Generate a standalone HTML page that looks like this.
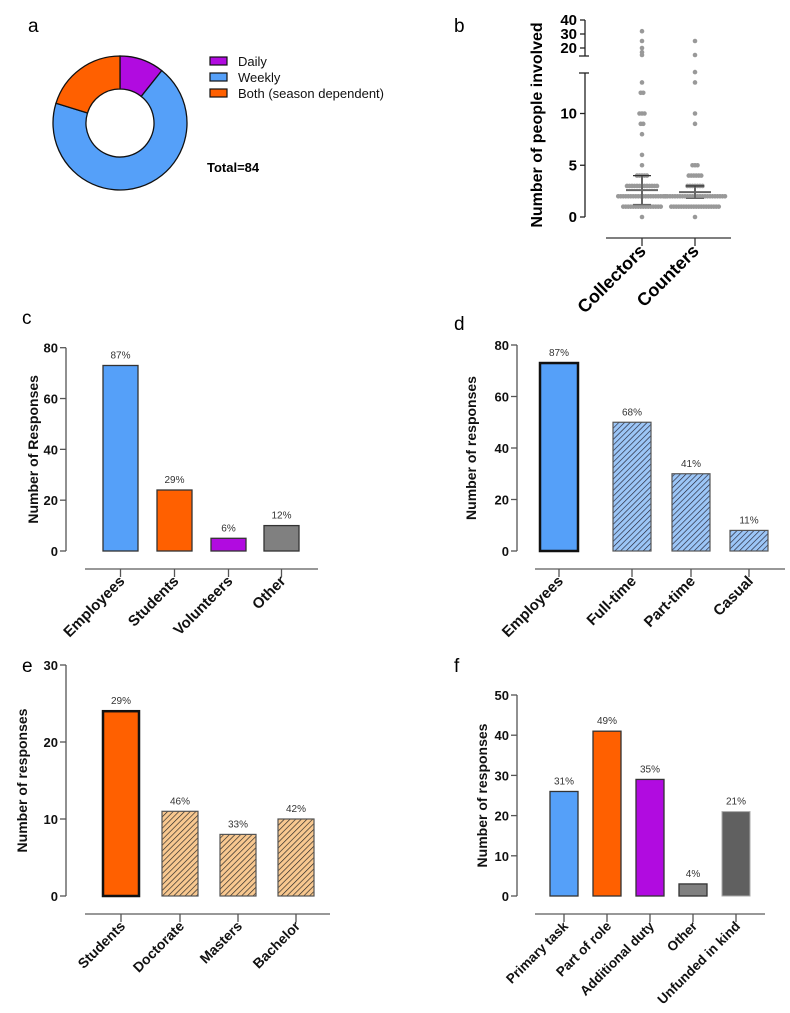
<!DOCTYPE html>
<html><head><meta charset="utf-8"><style>
html,body{margin:0;padding:0;background:#fff;}
svg{display:block;font-family:"Liberation Sans",Arial,sans-serif;}
</style></head><body>
<svg id="fig" width="790" height="1013" viewBox="0 0 790 1013">
<defs>
<pattern id="hatchBlue" width="4" height="4" patternUnits="userSpaceOnUse" patternTransform="rotate(45)"><rect width="4" height="4" fill="#9cc6f7"/><line x1="0" y1="0" x2="0" y2="4" stroke="#223" stroke-width="1.3"/></pattern>
<pattern id="hatchOrange" width="4" height="4" patternUnits="userSpaceOnUse" patternTransform="rotate(45)"><rect width="4" height="4" fill="#f8c890"/><line x1="0" y1="0" x2="0" y2="4" stroke="#222" stroke-width="1.3"/></pattern>
</defs>
<text x="28" y="32" font-size="19">a</text>
<text x="454" y="32" font-size="19">b</text>
<text x="22" y="324" font-size="19">c</text>
<text x="454" y="330" font-size="19">d</text>
<text x="22" y="672" font-size="19">e</text>
<text x="454" y="672" font-size="19">f</text>
<g id="donut"></g>
<g id="dots"></g>
<g id="c"></g>
<g id="d"></g>
<g id="e"></g>
<g id="f"></g>
</svg>
<script>
// ---- Panel a data
const donutLabels = ["Daily","Weekly","Both (season dependent)"];
const donutValues = [9, 58, 17];
const donutColors = ["#b10be0","#55a0f9","#ff6000"];
// ---- Panel b data
const dotGroups = ["Collectors","Counters"];
const collectorValues = [0,1,2,3,4,5,6,8,9,10,12,13,15,17,20,25,32];
const collectorCounts = [1,16,20,13,5,1,1,1,2,3,2,1,1,1,1,1,1];
const counterValues = [0,1,2,3,4,5,9,10,13,14,15,25];
const counterCounts = [1,20,25,7,6,3,1,1,1,1,1,1];
const dotMean = [2.6, 2.4];
const dotSD = [1.4, 0.6];
// ---- Panel c data
const cCats = ["Employees","Students","Volunteers","Other"];
const cVals = [73, 24, 5, 10];
const cPct = ["87%","29%","6%","12%"];
const cTicks = [0,20,40,60,80];
// ---- Panel d data
const dCats = ["Employees","Full-time","Part-time","Casual"];
const dVals = [73, 50, 30, 8];
const dPct = ["87%","68%","41%","11%"];
const dTicks = [0,20,40,60,80];
// ---- Panel e data
const eCats = ["Students","Doctorate","Masters","Bachelor"];
const eVals = [24, 11, 8, 10];
const ePct = ["29%","46%","33%","42%"];
const eTicks = [0,10,20,30];
// ---- Panel f data
const fCats = ["Primary task","Part of role","Additional duty","Other","Unfunded in kind"];
const fVals = [26, 41, 29, 3, 21];
const fPct = ["31%","49%","35%","4%","21%"];
const fTicks = [0,10,20,30,40,50];

const NS="http://www.w3.org/2000/svg";
function mk(parent,tag,attrs,text){const e=document.createElementNS(NS,tag);for(const k in attrs)e.setAttribute(k,attrs[k]);if(text!==undefined)e.textContent=text;parent.appendChild(e);return e;}

// ---- Donut
(function(){
  const g=document.getElementById('donut');
  const cx=120,cy=123,R=67,r=34,total=donutValues.reduce((a,b)=>a+b,0);
  let a0=0;
  donutValues.forEach((v,i)=>{
    const a1=a0+v/total*2*Math.PI;
    const p=(ang,rad)=>[cx+rad*Math.sin(ang),cy-rad*Math.cos(ang)];
    const [x1,y1]=p(a0,R),[x2,y2]=p(a1,R),[x3,y3]=p(a1,r),[x4,y4]=p(a0,r);
    const lg=(a1-a0)>Math.PI?1:0;
    const s=mk(g,'path',{d:`M${x1},${y1}A${R},${R} 0 ${lg} 1 ${x2},${y2}L${x3},${y3}A${r},${r} 0 ${lg} 0 ${x4},${y4}Z`,fill:donutColors[i],stroke:'#111','stroke-width':1.3});
    
    
    const sw=mk(g,'rect',{x:210,y:57+i*16,width:17,height:8,fill:donutColors[i],stroke:'#111','stroke-width':1.2});
    
    
    const t=mk(g,'text',{x:238,y:66+i*16,'font-size':13,fill:'#111'},donutLabels[i]);
    
    
    a0=a1;
  });
  const t=mk(g,'text',{x:207,y:172,'font-size':13,'font-weight':'bold'},'Total='+total);
  
  
})();

// ---- Dot plot
(function(){
  const g=document.getElementById('dots');
  const ax=585;
  const yLow=v=>217-v*10.35;
  const yHigh=v=>48-(v-20)*1.4;
  const Y=v=>v<=14?yLow(v):yHigh(v);
  mk(g,'line',{x1:ax,y1:yLow(0),x2:ax,y2:73,stroke:'#222','stroke-width':1.3});
  mk(g,'line',{x1:ax-6,y1:73,x2:ax+4,y2:73,stroke:'#222','stroke-width':1.3});
  mk(g,'line',{x1:ax,y1:56,x2:ax,y2:yHigh(40),stroke:'#222','stroke-width':1.3});
  mk(g,'line',{x1:ax-6,y1:56,x2:ax+4,y2:56,stroke:'#222','stroke-width':1.3});
  [0,5,10].forEach(v=>{mk(g,'line',{x1:ax-5,y1:yLow(v),x2:ax,y2:yLow(v),stroke:'#222','stroke-width':1.3});
    const t=mk(g,'text',{x:ax-8,y:yLow(v)+5,'font-size':15,'font-weight':'bold','text-anchor':'end'},v);
    });
  [20,30,40].forEach(v=>{mk(g,'line',{x1:ax-5,y1:yHigh(v),x2:ax,y2:yHigh(v),stroke:'#222','stroke-width':1.3});
    const t=mk(g,'text',{x:ax-8,y:yHigh(v)+5,'font-size':15,'font-weight':'bold','text-anchor':'end'},v);
    });
  const yt=mk(g,'text',{transform:'translate(542,125) rotate(-90)','font-size':16,'font-weight':'bold','text-anchor':'middle'},'Number of people involved');
  
  mk(g,'line',{x1:606,y1:238,x2:731,y2:238,stroke:'#333','stroke-width':1.3});
  const xs=[642,695];
  const sets=[[collectorValues,collectorCounts],[counterValues,counterCounts]];
  sets.forEach(([vals,cnts],gi)=>{
    const x=xs[gi];
    vals.forEach((v,j)=>{
      const n=cnts[j];
      for(let k=0;k<n;k++){
        const dx=(k-(n-1)/2)*2.5;
        const c=mk(g,'circle',{cx:x+dx,cy:Y(v),r:2.3,fill:'#999'});
        
        
      }
    });
    const m=dotMean[gi],s=dotSD[gi];
    mk(g,'line',{x1:x-16,y1:Y(m),x2:x+16,y2:Y(m),stroke:'#666','stroke-width':2});
    mk(g,'line',{x1:x,y1:Y(m-s),x2:x,y2:Y(m+s),stroke:'#666','stroke-width':2});
    mk(g,'line',{x1:x-9,y1:Y(m+s),x2:x+9,y2:Y(m+s),stroke:'#333','stroke-width':1.3});
    mk(g,'line',{x1:x-9,y1:Y(m-s),x2:x+9,y2:Y(m-s),stroke:'#666','stroke-width':1.3});
    mk(g,'line',{x1:x,y1:238,x2:x,y2:246,stroke:'#333','stroke-width':1.3});
    const t=mk(g,'text',{transform:`translate(${x+5},252) rotate(-45)`,'font-size':18,'font-weight':'bold','text-anchor':'end'},dotGroups[gi]);
    
  });
})();

// ---- Bar chart helper
function barChart(id,o){
  const g=document.getElementById(id);
  const {cats,vals,pct,ticks,ax,y0,yTop,bars,bw,axisY,axX1,axX2,fills,strokes,sws,title,titleX,labelSize}=o;
  const max=ticks[ticks.length-1];
  const Y=v=>y0-(v/max)*(y0-yTop);
  mk(g,'line',{x1:ax,y1:Y(0),x2:ax,y2:Y(max),stroke:'#555','stroke-width':1.3});
  ticks.forEach(v=>{
    mk(g,'line',{x1:ax-6,y1:Y(v),x2:ax,y2:Y(v),stroke:'#555','stroke-width':1.3});
    const t=mk(g,'text',{x:ax-8,y:Y(v)+5,'font-size':13,'font-weight':'bold','text-anchor':'end',fill:'#111'},v);
    
  });
  const yt=mk(g,'text',{transform:`translate(${titleX},${(Y(0)+Y(max))/2}) rotate(-90)`,'font-size':14,'font-weight':'bold','text-anchor':'middle',fill:'#111'},title);
  
  mk(g,'line',{x1:axX1,y1:axisY,x2:axX2,y2:axisY,stroke:'#777','stroke-width':1.5});
  cats.forEach((c,i)=>{
    const x=bars[i];
    const r=mk(g,'rect',{x:x,y:Y(vals[i]),width:bw,height:Y(0)-Y(vals[i]),fill:fills[i],stroke:strokes[i],'stroke-width':sws[i]});
    
    
    const p=mk(g,'text',{x:x+bw/2,y:Y(vals[i])-7,'font-size':10,'text-anchor':'middle',fill:'#333'},pct[i]);
    
    const cx=x+bw/2;
    mk(g,'line',{x1:cx,y1:axisY,x2:cx,y2:axisY+8,stroke:'#555','stroke-width':1.3});
    const t=mk(g,'text',{transform:`translate(${cx+5},${axisY+13}) rotate(-45)`,'font-size':labelSize,'font-weight':'bold','text-anchor':'end',fill:'#111'},c);
    
  });
}
barChart('c',{cats:cCats,vals:cVals,pct:cPct,ticks:cTicks,ax:66,y0:551,yTop:347.7,bars:[103,157,211,264],bw:35,axisY:569,axX1:85,axX2:318,
  fills:["#55a0f9","#ff6000","#b10be0","#808080"],strokes:["#333","#333","#333","#333"],sws:[1.3,1.3,1.3,1.3],title:"Number of Responses",titleX:38,labelSize:15});
barChart('d',{cats:dCats,vals:dVals,pct:dPct,ticks:dTicks,ax:517,y0:551,yTop:345,bars:[540,613,672,730],bw:38,axisY:569,axX1:535,axX2:785,
  fills:["#55a0f9","url(#hatchBlue)","url(#hatchBlue)","url(#hatchBlue)"],strokes:["#111","#555","#555","#555"],sws:[2.5,1.2,1.2,1.2],title:"Number of responses",titleX:476,labelSize:15});
barChart('e',{cats:eCats,vals:eVals,pct:ePct,ticks:eTicks,ax:66,y0:896,yTop:665,bars:[103,162,220,278],bw:36,axisY:914,axX1:85,axX2:330,
  fills:["#ff6000","url(#hatchOrange)","url(#hatchOrange)","url(#hatchOrange)"],strokes:["#111","#555","#555","#555"],sws:[2.5,1.2,1.2,1.2],title:"Number of responses",titleX:27,labelSize:14});
barChart('f',{cats:fCats,vals:fVals,pct:fPct,ticks:fTicks,ax:517,y0:896,yTop:695,bars:[550,593,636,679,722],bw:28,axisY:914,axX1:535,axX2:765,
  fills:["#55a0f9","#ff6000","#b10be0","#808080","#606060"],strokes:["#333","#333","#333","#333","#aaa"],sws:[1.3,1.3,1.3,1.3,1],title:"Number of responses",titleX:487,labelSize:13.5});
</script>
</body></html>
